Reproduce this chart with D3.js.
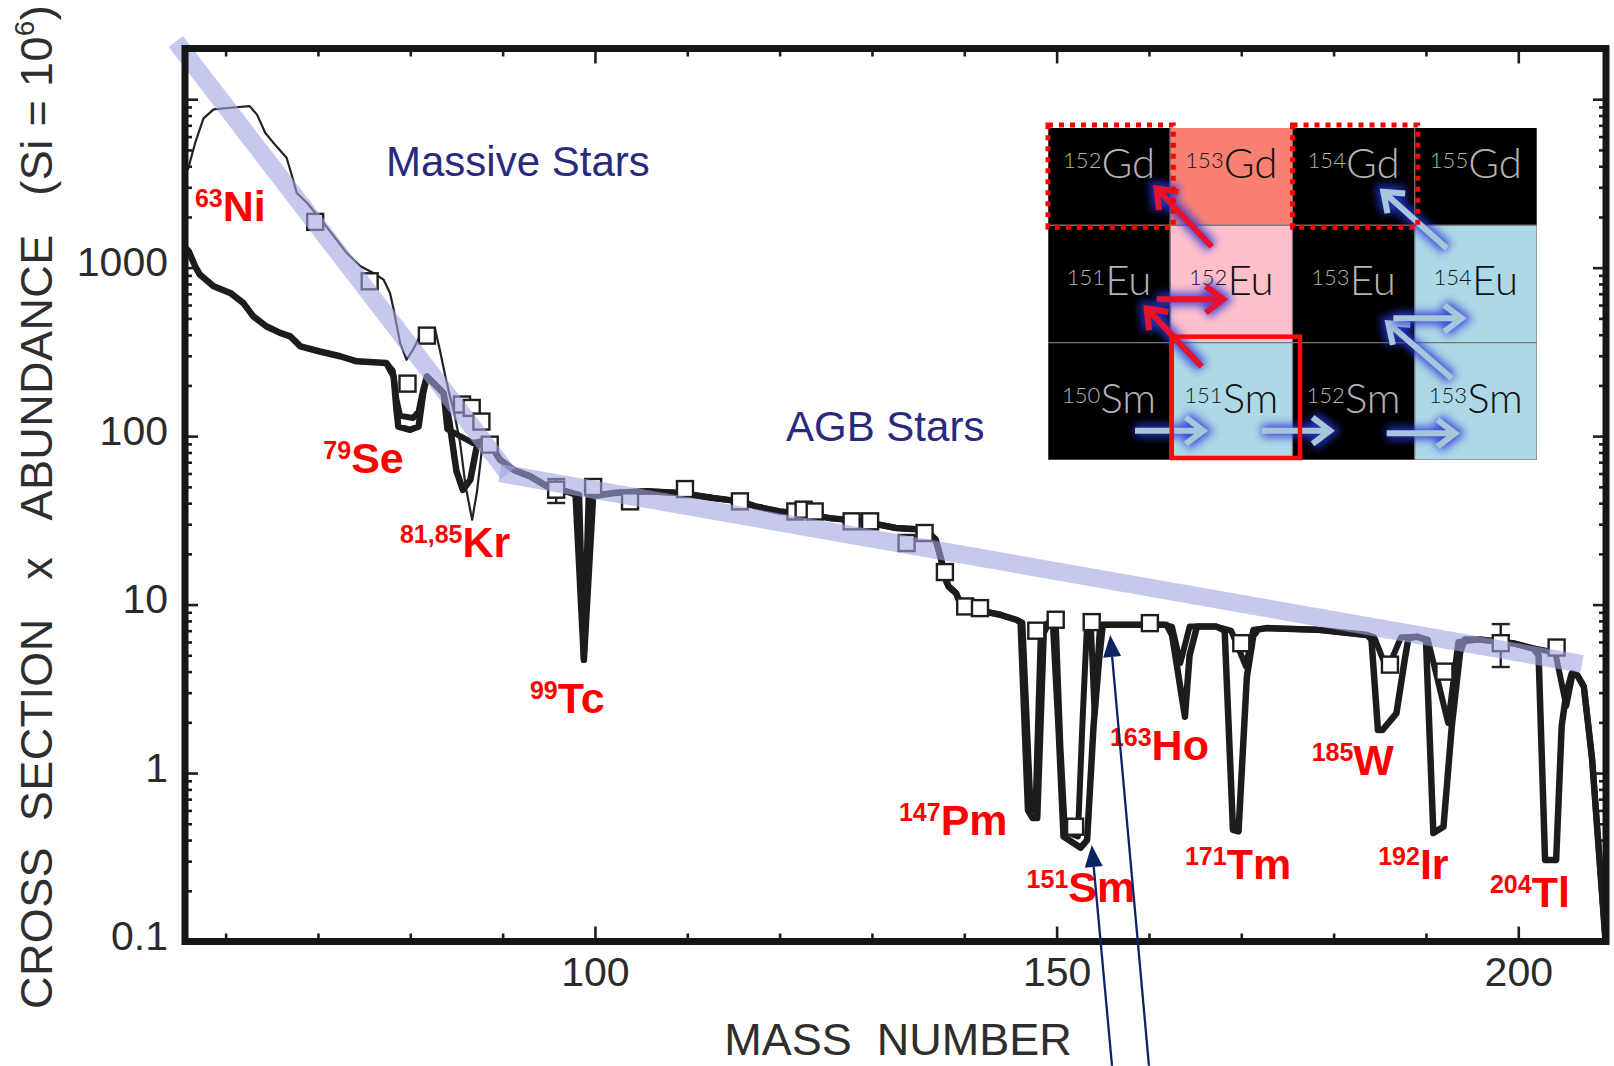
<!DOCTYPE html>
<html><head><meta charset="utf-8">
<script src="https://cdn.jsdelivr.net/npm/d3@7"></script>
<style>
html,body{margin:0;padding:0;background:#fff;}
svg{display:block;}
</style></head><body>
<svg id="chart" width="1614" height="1066"></svg>
<script>
// Main s-process sigma*N curve (mass number, value)
const sMain = [[55.7,1300],[56.0,1250],[56.7,1020],[57.2,910],[58.7,775],[60.5,708],[61.9,618],[63.0,514],[64.4,449],[65.9,410],[67.0,391],[68.1,341],[70.2,318],[72.4,298],[74.2,278],[77.4,272],[78.2,226],[78.5,144],[78.7,114],[80.0,109],[80.9,114],[81.4,180],[81.8,226],[83.6,180],[84.2,125],[85.0,62],[85.7,48],[86.5,55],[87.2,87],[88.0,95],[88.8,87],[89.7,72.5],[91.2,63],[93.0,57.7],[94.8,50.3],[96.9,47],[97.9,45],[98.8,4.7],[99.8,43.9],[102.0,46],[105.6,47],[109.2,46],[112.8,42.9],[115.7,41],[117.4,38.3],[120.0,35.7],[123.6,34.1],[125.4,32.6],[129.0,31.2],[132.6,28.5],[135.8,27.8],[136.9,24.3],[137.5,18.5],[138.0,14.0],[138.3,12.8],[139.1,11.7],[139.4,10.7],[141.3,9.3],[143.9,8.7],[145.7,8.1],[146.1,7.8],[146.9,0.6],[147.4,0.54],[147.9,0.54],[148.6,6.8],[149.2,7.9],[149.6,7.9],[150.2,1.9],[150.75,0.42],[152.6,0.36],[153.3,0.40],[154.0,1.9],[154.6,4.7],[155.0,7.6],[158.3,7.6],[161.9,7.6],[162.5,6.6],[163.9,2.16],[164.4,5.0],[165.2,7.4],[167.3,7.4],[168.2,7.0],[169.1,0.46],[169.7,0.45],[170.6,3.7],[171.3,6.5],[171.8,7.1],[172.7,7.25],[178.1,7.1],[183.6,6.6],[184.1,6.2],[184.8,1.8],[185.3,1.8],[186.8,2.26],[187.7,4.7],[188.1,6.3],[189.0,6.45],[190.0,6.2],[190.8,0.44],[191.9,0.48],[192.8,1.9],[193.7,5.2],[194.2,6.2],[195.8,6.2],[199.4,5.9],[201.6,5.5],[202.2,5.0],[202.9,0.305],[204.1,0.305],[204.7,1.9],[205.2,2.98],[205.8,3.9],[206.4,3.8],[207.1,3.26],[208.0,1.2],[209.2,0.154],[209.45,0.1]];

// Alternative model: same trend, different branching depths
const sAlt = [[77.4,272],[78.1,245],[78.5,165],[78.9,132],[80.3,128],[80.9,140],[81.4,190],[81.8,226],[83.6,180],[84.0,110],[86.8,91],[87.6,93],[88.8,87],[89.7,72.5],[91.2,63],[93.0,57.7],[94.8,50.3],[96.9,47],[98.3,45],[98.8,4.7],[99.3,44],[102.0,46],[105.6,47],[109.2,46],[112.8,42.9],[115.7,41],[117.4,38.3],[120.0,35.7],[123.6,34.1],[125.4,32.6],[129.0,31.2],[132.6,28.5],[135.8,27.8],[136.9,24.3],[137.5,18.5],[138.0,14.0],[138.3,12.8],[139.1,11.7],[139.4,10.7],[141.3,9.3],[143.9,8.7],[145.7,8.1],[146.3,7.8],[147.2,0.6],[147.7,0.6],[148.3,7.4],[149.9,8.1],[150.4,1.5],[150.9,0.45],[152.3,0.42],[152.8,2.0],[153.3,7.8],[153.7,7.8],[154.1,2.3],[154.7,7.6],[158.3,7.6],[161.5,7.6],[162.5,7.4],[163.4,4.5],[164.4,7.4],[167.3,7.4],[168.9,7.0],[170.5,4.3],[171.3,7.1],[172.7,7.25],[178.1,7.1],[183.6,6.6],[184.4,6.4],[185.8,4.1],[187.3,6.4],[189.0,6.45],[190.2,6.2],[192.4,1.98],[193.5,6.0],[195.8,6.2],[199.4,5.9],[201.6,5.5],[204.0,5.2],[205.2,2.5],[205.9,3.9],[206.4,3.8],[207.1,3.26],[208.0,1.2],[209.2,0.154],[209.45,0.1]];

// Weak component (massive stars), thin curve
const weakComp = [[55.9,3800],[56.7,5500],[57.6,7700],[58.7,8700],[60.5,8900],[62.6,9100],[63.4,8100],[64.3,6300],[65.5,5250],[66.6,4490],[67.2,3490],[67.7,2780],[68.8,2430],[70.6,1845],[72.0,1470],[73.1,1224],[74.6,1020],[76.0,930],[77.1,850],[77.8,708],[78.2,564],[78.9,357],[79.6,284],[80.3,326],[81.0,391],[81.8,428],[82.7,428],[83.2,326],[83.8,226],[84.3,172],[84.7,143],[85.4,91],[86.0,50],[86.7,31.9],[87.2,45.9],[87.8,87],[88.3,95],[89.7,72.5],[91.9,60.4]];

// Empirical sigma*N values of s-only nuclei
const measured = [[69.7,1870],[75.6,830],[79.7,205],[81.8,395],[85.6,154],[86.65,147],[87.7,122],[88.6,89],[95.8,48.1],[99.8,49.9],[103.8,41.0],[109.75,48.5],[115.7,41.0],[121.7,35.7],[122.6,36.6],[123.8,35.7],[127.8,31.2],[129.8,31.2],[133.75,23.2],[135.7,26.6],[137.9,15.6],[140.1,9.75],[141.7,9.53],[147.8,7.0],[149.9,8.13],[152.0,0.48],[153.8,7.87],[160.1,7.76],[170.0,5.9],[186.1,4.4],[192.0,4.0],[198.1,5.9],[204.15,5.56]];
const errorBars = [[95.8,40.1,55.6],[198.1,4.26,7.66]];

// Trend bands
const massiveTrend = [[54.6,22000],[90.6,60]];
const agbTrend = [[89.7,60.3],[206.9,4.45]];

// Axis ticks
const xMajor = [100,150,200];
const xMinor = [60,70,80,90,110,120,130,140,160,170,180,190];
const yLabelled = [0.1,1,10,100,1000,10000];

// Branch-point isotope labels: [superscript, symbol, anchor mass, anchor value]
const isoLabels = [["63","Ni",56.68,1884],["79","Se",70.58,60.4],["81,85","Kr",78.88,19.2],["99","Tc",92.96,2.27],["147","Pm",132.92,0.429],["151","Sm",146.75,0.1723],["163","Ho",155.77,1.197],["171","Tm",163.9,0.2357],["185","W",177.62,0.975],["192","Ir",184.83,0.2357],["204","Tl",196.93,0.161]];
const regionLabels = [["Massive Stars",77.37,3483],["AGB Stars",120.69,93]];
// pointers towards the 151Sm branching: [tail, tip]
const pointers = [[[156.0,0.0183],[153.8,0.374]],[[160.0,0.0183],[155.8,6.6]]];

// Nuclide chart inset
const insetRows = ["Gd","Eu","Sm"];
const insetBase = {Gd:152, Eu:151, Sm:150};
const insetCols = [0,1,2,3];
const insetFill = {"153Gd":"#fa8072","152Eu":"#ffc0cb","154Eu":"#add8e6","151Sm":"#add8e6","153Sm":"#add8e6"};
const dottedBoxes = ["152Gd","154Gd"];
// arrows: [from col,row,dx,dy, to col,row,dx,dy, colour]
const insetArrows = [
  [1,"Eu",41.5,21.4, 0,"Gd",108.7,80.3,"red"],
  [0,"Eu",108.7,74, 1,"Eu",53,74,"red"],
  [1,"Sm",31.5,24, 0,"Eu",98.7,83,"red"],
  [0,"Sm",87,88, 1,"Sm",33,88,"blue"],
  [1,"Sm",91.5,88, 2,"Sm",37.5,88,"blue"],
  [2,"Sm",94.2,90.6, 3,"Sm",40.3,90.6,"blue"],
  [3,"Sm",37,35.6, 2,"Eu",95.8,98,"blue"],
  [2,"Eu",100.8,93, 3,"Eu",47,93,"blue"],
  [3,"Eu",32,23, 2,"Gd",90.8,83.7,"blue"]
];

const svg = d3.select("#chart");
const x = d3.scaleLinear().domain([55.6,209.5]).range([185,1606]);
const y = d3.scaleLog().domain([0.1,20000]).range([941.5,48.5]);
const [x0,x1] = x.range(), [y1,y0] = y.range();

const defs = svg.append("defs");
defs.append("clipPath").attr("id","plotclip").append("rect")
  .attr("x",x0).attr("y",y0).attr("width",x1-x0).attr("height",y1-y0);
const glow = defs.append("filter").attr("id","glow").attr("x","-50%").attr("y","-50%").attr("width","200%").attr("height","200%");
glow.append("feGaussianBlur").attr("stdDeviation",4);

const FONT = "'Liberation Sans', Arial, Helvetica, sans-serif";

// ----- axes -----
const yTicksAll = y.ticks().filter(d => d <= 20000);
const isMajor = d => Math.abs(Math.log10(d) - Math.round(Math.log10(d))) < 1e-9;
const yMinor = yTicksAll.filter(d => !isMajor(d));

function styleAxis(g){
  g.select(".domain").remove();
  g.selectAll(".tick line").attr("stroke","#1e1e1e").attr("stroke-width",2.6);
  g.selectAll(".tick text").attr("font-family",FONT).attr("font-size",41).attr("fill","#2b2b2b");
}
svg.append("g").attr("transform",`translate(${x0},0)`)
  .call(d3.axisLeft(y).tickValues(yLabelled).tickSize(-13).tickPadding(17)
    .tickFormat(d => d >= 10000 ? "" : String(d)))
  .call(styleAxis).call(g => g.selectAll(".tick text").attr("dy","0.2em"));
svg.append("g").attr("transform",`translate(${x0},0)`)
  .call(d3.axisLeft(y).tickValues(yMinor).tickSize(-7).tickFormat("")).call(styleAxis);
svg.append("g").attr("transform",`translate(${x1},0)`)
  .call(d3.axisRight(y).tickValues(yLabelled).tickSize(-13).tickFormat("")).call(styleAxis);
svg.append("g").attr("transform",`translate(${x1},0)`)
  .call(d3.axisRight(y).tickValues(yMinor).tickSize(-7).tickFormat("")).call(styleAxis);
svg.append("g").attr("transform",`translate(0,${y1})`)
  .call(d3.axisBottom(x).tickValues(xMajor).tickSize(-15).tickPadding(15).tickFormat(d3.format("d")))
  .call(styleAxis);
svg.append("g").attr("transform",`translate(0,${y1})`)
  .call(d3.axisBottom(x).tickValues(xMinor).tickSize(-8).tickFormat("")).call(styleAxis);
svg.append("g").attr("transform",`translate(0,${y0})`)
  .call(d3.axisTop(x).tickValues(xMajor).tickSize(-15).tickFormat("")).call(styleAxis);
svg.append("g").attr("transform",`translate(0,${y0})`)
  .call(d3.axisTop(x).tickValues(xMinor).tickSize(-8).tickFormat("")).call(styleAxis);

// ----- curves -----
const line = d3.line().x(d => x(d[0])).y(d => y(d[1]));
const plot = svg.append("g").attr("clip-path","url(#plotclip)");
plot.append("path").datum(sAlt).attr("d",line).attr("fill","none")
  .attr("stroke","#1c1c1c").attr("stroke-width",6).attr("stroke-linejoin","round");
plot.append("path").datum(sMain).attr("d",line).attr("fill","none")
  .attr("stroke","#1c1c1c").attr("stroke-width",6.5).attr("stroke-linejoin","round");
plot.append("path").datum(weakComp).attr("d",line).attr("fill","none")
  .attr("stroke","#222").attr("stroke-width",2.2).attr("stroke-linejoin","round");

// error bars
const eb = plot.append("g").attr("stroke","#222").attr("stroke-width",2.4);
errorBars.forEach(([m,lo,hi]) => {
  eb.append("line").attr("x1",x(m)).attr("x2",x(m)).attr("y1",y(lo)).attr("y2",y(hi));
  [lo,hi].forEach(v => eb.append("line").attr("x1",x(m)-9).attr("x2",x(m)+9).attr("y1",y(v)).attr("y2",y(v)));
});
// measured points
plot.append("g").selectAll("rect").data(measured).join("rect")
  .attr("x",d => x(d[0])-8).attr("y",d => y(d[1])-8).attr("width",16).attr("height",16)
  .attr("fill","#fff").attr("stroke","#1e1e1e").attr("stroke-width",2.4);

// ----- trend bands -----
[massiveTrend, agbTrend].forEach(t => {
  svg.append("path").datum(t).attr("d",line).attr("fill","none")
    .attr("stroke","#a0a5e1").attr("stroke-opacity",0.6).attr("stroke-width",18).attr("stroke-linecap","butt");
});

// frame
svg.append("rect").attr("x",x0).attr("y",y0).attr("width",x1-x0).attr("height",y1-y0)
  .attr("fill","none").attr("stroke","#161616").attr("stroke-width",7);

// ----- labels -----
isoLabels.forEach(([sup,el,m,v]) => {
  const t = svg.append("text").attr("x",x(m)).attr("y",y(v))
    .attr("font-family",FONT).attr("font-weight","bold").attr("fill","#ff0000");
  t.append("tspan").attr("font-size",25).attr("dy",-14).text(sup);
  t.append("tspan").attr("font-size",43).attr("dy",14).text(el);
});
regionLabels.forEach(([txt,m,v]) => {
  svg.append("text").attr("x",x(m)).attr("y",y(v)).attr("font-family",FONT)
    .attr("font-size",42).attr("fill","#2a2a7c").text(txt);
});

// axis titles
svg.append("text").attr("x",898).attr("y",1055).attr("text-anchor","middle")
  .attr("font-family",FONT).attr("font-size",45).attr("fill","#2e2e2e")
  .style("white-space","pre").text("MASS  NUMBER");
const yt = svg.append("text").attr("transform","translate(52,1009) rotate(-90)")
  .attr("font-family",FONT).attr("font-size",45).attr("fill","#2e2e2e")
  .attr("letter-spacing",0.4).style("white-space","pre");
yt.append("tspan").text("CROSS  SECTION   x   ABUNDANCE   (Si = 10");
yt.append("tspan").attr("font-size",28).attr("dy",-18).text("6");
yt.append("tspan").attr("dy",18).text(")");

// ----- nuclide chart inset -----
const cx = d3.scaleBand().domain(insetCols).range([1048,1537]);
const ry = d3.scaleBand().domain(insetRows).range([108,460]);
const bw = cx.bandwidth(), bh = ry.bandwidth();
defs.append("clipPath").attr("id","insetclip").append("rect")
  .attr("x",1048).attr("y",128).attr("width",489).attr("height",332);
const inset = svg.append("g");
const cells = inset.append("g").attr("clip-path","url(#insetclip)");
insetRows.forEach(el => insetCols.forEach(c => {
  const A = insetBase[el] + c, key = A + el;
  const fill = insetFill[key] || "#000";
  cells.append("rect").attr("x",cx(c)).attr("y",ry(el)).attr("width",bw).attr("height",bh)
    .attr("fill",fill).attr("stroke","#777").attr("stroke-width",1.2);
  const t = cells.append("text").attr("x",cx(c)+bw/2).attr("y",ry(el)+70)
    .attr("text-anchor","middle").attr("font-family","Lato, 'Open Sans', sans-serif").attr("font-weight",300)
    .attr("fill", fill === "#000" ? "#b4b4b4" : "#111");
  t.append("tspan").attr("font-size",22).attr("dy",-10).text(A);
  t.append("tspan").attr("font-size",42).attr("dy",10).text(el);
}));

function arrowPath(xa,ya,xb,yb,head){
  const ang = Math.atan2(yb-ya, xb-xa);
  const a1 = ang + Math.PI - 0.65, a2 = ang + Math.PI + 0.65;
  return `M${xa},${ya}L${xb},${yb}M${xb+head*Math.cos(a1)},${yb+head*Math.sin(a1)}L${xb},${yb}L${xb+head*Math.cos(a2)},${yb+head*Math.sin(a2)}`;
}
const arrowCol = {red:"#e8122c", blue:"#a8c6da"};
insetArrows.forEach(([fc,fr,fdx,fdy,tc,tr,tdx,tdy,col]) => {
  const d = arrowPath(cx(fc)+fdx, ry(fr)+fdy, cx(tc)+tdx, ry(tr)+tdy, 22);
  inset.append("path").attr("d",d).attr("fill","none").attr("stroke","#2b39d8")
    .attr("stroke-width",13).attr("opacity",0.85).attr("filter","url(#glow)");
  inset.append("path").attr("d",d).attr("fill","none").attr("stroke",arrowCol[col])
    .attr("stroke-width",6);
});
// dotted outlines around the 152Gd and 154Gd cells
dottedBoxes.forEach(key => {
  const el = key.replace(/\d+/,""), A = +key.match(/\d+/)[0];
  const c = A - insetBase[el];
  inset.append("rect").attr("x",cx(c)).attr("y",125).attr("width",bw+3).attr("height",ry(el)+bh+2-125)
    .attr("fill","none").attr("stroke","#ff0000").attr("stroke-width",5).attr("stroke-dasharray","5 6");
});
// solid outline around 151Sm
inset.append("rect").attr("x",cx(1)+1.5).attr("y",ry("Sm")-6).attr("width",bw+6).attr("height",bh+4)
  .attr("fill","none").attr("stroke","#ff0a0a").attr("stroke-width",4.5);

// ----- pointers -----
pointers.forEach(([tail,tip]) => {
  const xa = x(tail[0]), ya = y(tail[1]), xb = x(tip[0]), yb = y(tip[1]);
  const ang = Math.atan2(yb-ya, xb-xa), L = 22, hw = 9;
  const bx = xb - L*Math.cos(ang), by = yb - L*Math.sin(ang);
  svg.append("line").attr("x1",xa).attr("y1",ya).attr("x2",bx).attr("y2",by)
    .attr("stroke","#0c2466").attr("stroke-width",2.3);
  svg.append("polygon").attr("fill","#0c2466").attr("points",[
    [xb,yb],[bx + hw*Math.sin(ang), by - hw*Math.cos(ang)],[bx - hw*Math.sin(ang), by + hw*Math.cos(ang)]
  ].map(p => p.join(",")).join(" "));
});
</script>
</body></html>
